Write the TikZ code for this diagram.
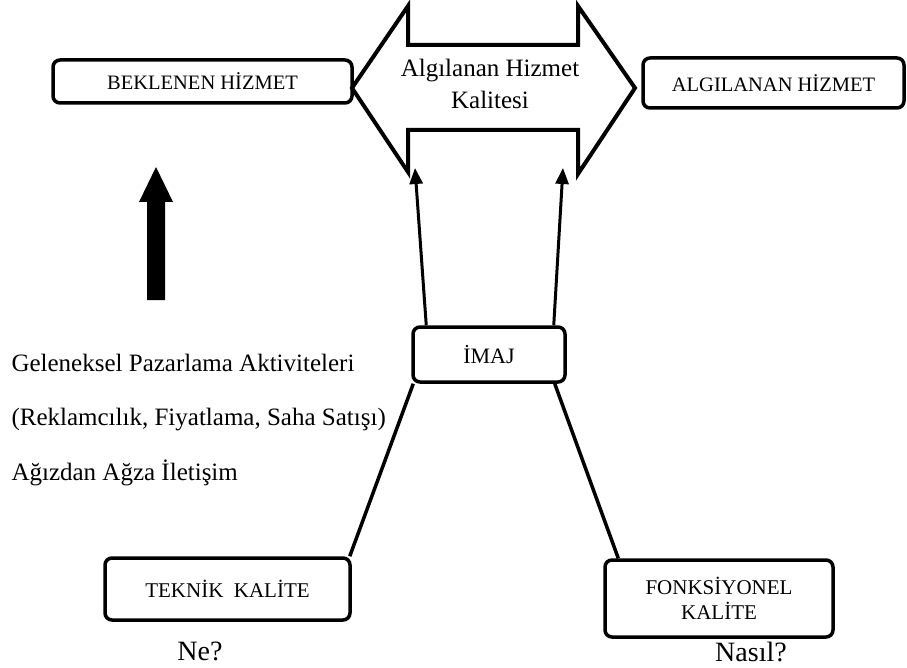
\documentclass[tikz,border=0pt]{standalone}
\usepackage{fontspec}
\setmainfont{Liberation Serif}
\usetikzlibrary{calc,arrows.meta}
\begin{document}
\begin{tikzpicture}[x=1pt,y=-1pt,
  box/.style={draw,line width=3.5pt,rounded corners=7pt,inner sep=0pt,align=center},
  boxfont/.style={font=\fontsize{20.5}{25}\selectfont},
  bodyfont/.style={font=\fontsize{25}{32}\selectfont},
  askfont/.style={font=\fontsize{28}{32}\selectfont},
  conn/.style={line width=3.5pt},
  uparrow/.style={line width=3pt,-{Triangle[width=13pt,length=16pt]}},
  outline/.style={line width=4pt,line join=miter}]
\useasboundingbox (0,0) rectangle (907,668);

% boxes
\node[box,boxfont,minimum width=299pt,minimum height=43pt] (beklenen) at (202.5,81.5) {BEKLENEN HİZMET};
\node[box,boxfont,minimum width=261pt,minimum height=50pt] (algilanan) at (773.5,83) {ALGILANAN HİZMET};
\node[box,font=\fontsize{22}{26}\selectfont,minimum width=152pt,minimum height=55pt] (imaj) at (489,354.5) {İMAJ};
\node[box,font=\fontsize{21}{26}\selectfont,minimum width=245pt,minimum height=62pt] (teknik) at (227.5,589) {TEKNİK\ \ KALİTE};
\node[box,font=\fontsize{21}{25}\selectfont,minimum width=228pt,minimum height=77pt] (fonk) at (719,598.5) {FONKSİYONEL\\KALİTE};

% double-headed block arrow
\coordinate (dl) at (408,172);
\coordinate (dr) at (578,174);
\draw[outline] (352,88) -- (408,6) -- (408,45) -- (578,45) -- (578,6) -- (635,88)
  -- (dr) -- (578,130) -- (408,130) -- (dl) -- cycle;
\node[bodyfont,align=center] (kalite) at (490,84) {Algılanan Hizmet\\Kalitesi};

% thick upward arrow
\fill (147,300) -- (147,202) -- (139,202) -- (156,167) -- (173,202) -- (165,202) -- (165,300) -- cycle;

% arrow targets under the block arrow
\coordinate (lt) at (415,168);
\coordinate (rt) at (563,168);
\draw[uparrow] ([xshift=15pt]imaj.north west) -- (lt);
\draw[uparrow] ([xshift=-13pt]imaj.north east) -- (rt);

% links to the quality boxes
\draw[conn] ([xshift=2pt]imaj.south west) -- ([xshift=-2pt]teknik.north east);
\draw[conn] ([xshift=-12pt]imaj.south east) -- ([xshift=15pt]fonk.north west);

% side texts
\node[bodyfont,anchor=west] (t1) at (8,363) {Geleneksel Pazarlama Aktiviteleri};
\node[bodyfont,anchor=west] (t2) at (8,420) {(Reklamcılık, Fiyatlama, Saha Satışı)};
\node[bodyfont,anchor=west] (t3) at (8,473) {Ağızdan Ağza İletişim};

\node[askfont] (ne) at (200,651) {Ne?};
\node[askfont] (nasil) at (751,652) {Nasıl?};
\end{tikzpicture}
\end{document}
